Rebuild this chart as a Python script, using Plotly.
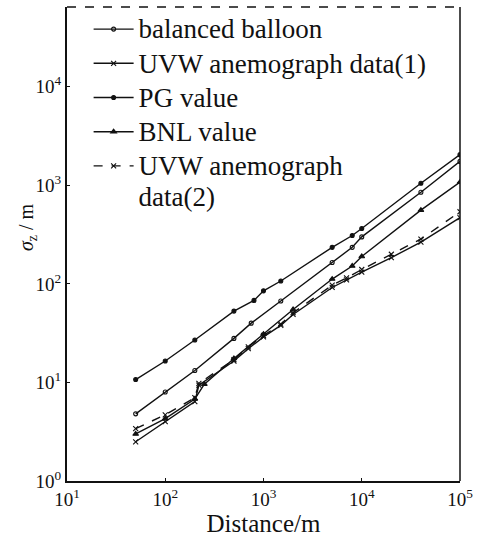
import plotly.graph_objects as go

# Vertical dispersion parameter sigma_z (m) against downwind distance (m)
pg_x = [50, 100, 200, 500, 800, 1000, 1500, 5000, 8000, 10000, 40000, 100000]
pg_y = [10.7, 16.5, 27, 53, 68, 85, 107, 235, 310, 365, 1050, 2050]

balloon_x = [50, 100, 200, 500, 750, 1500, 5000, 8000, 10000, 40000, 100000]
balloon_y = [4.8, 8.0, 13.2, 28, 40, 67, 165, 235, 300, 850, 1750]

bnl_x = [50, 100, 200, 250, 500, 1000, 2000, 5000, 8000, 10000, 40000, 100000]
bnl_y = [3.0, 4.3, 6.8, 9.6, 17.5, 31, 55, 112, 152, 190, 560, 1080]

uvw2_x = [50, 100, 200, 220, 500, 700, 1000, 1500, 2000, 5000, 7000, 10000, 20000, 40000, 100000]
uvw2_y = [3.4, 4.7, 7.0, 9.8, 17, 23, 30, 39, 51, 97, 115, 140, 200, 285, 540]

uvw1_x = [50, 100, 200, 220, 500, 700, 1000, 1500, 2000, 5000, 7000, 10000, 20000, 40000, 100000]
uvw1_y = [2.5, 4.0, 6.4, 9.4, 16.5, 22, 29, 38, 49, 92, 110, 132, 185, 265, 470]

x_tickvals = [10, 100, 1000, 10000, 100000]
x_ticktext = ["10<sup>1</sup>", "10<sup>2</sup>", "10<sup>3</sup>", "10<sup>4</sup>", "10<sup>5</sup>"]
y_tickvals = [1, 10, 100, 1000, 10000]
y_ticktext = ["10<sup>0</sup>", "10<sup>1</sup>", "10<sup>2</sup>", "10<sup>3</sup>", "10<sup>4</sup>"]

SERIF = "Liberation Serif, Times New Roman, serif"
INK = "#111111"


def big(label):
    return '<span style="font-size:27px">' + label + "</span>"


series = [
    (big("balanced balloon"), balloon_x, balloon_y, "circle-open", 4, "solid"),
    (big("UVW anemograph data(1)"), uvw1_x, uvw1_y, "x-thin", 5, "solid"),
    (big("PG value"), pg_x, pg_y, "circle", 4, "solid"),
    (big("BNL value"), bnl_x, bnl_y, "triangle-up", 5, "solid"),
    (big("UVW anemograph") + "<br>" + big("data(2)"), uvw2_x, uvw2_y, "x-thin", 5, "dash"),
]

fig = go.Figure()
for name, xs, ys, sym, size, dash in series:
    fig.add_trace(go.Scatter(
        x=xs, y=ys, name=name, mode="lines+markers",
        line=dict(color=INK, width=1.4, dash=dash),
        marker=dict(symbol=sym, size=size, color=INK,
                    line=dict(color=INK, width=1.1)),
    ))

fig.update_layout(
    width=488, height=537,
    margin=dict(l=67, r=28, t=7, b=54),
    paper_bgcolor="white", plot_bgcolor="white",
    font=dict(family=SERIF, color=INK),
    showlegend=True,
    legend=dict(
        x=0.055, y=1.0, xanchor="left", yanchor="top",
        font=dict(family=SERIF, size=24, color=INK),
        bgcolor="rgba(0,0,0,0)", borderwidth=0,
        valign="top", itemwidth=40, tracegroupgap=0,
    ),
    xaxis=dict(
        type="log", range=[1, 5],
        tickvals=x_tickvals, ticktext=x_ticktext,
        tickfont=dict(family=SERIF, size=19, color=INK),
        ticks="inside", ticklen=3, tickcolor=INK,
        showline=True, linecolor=INK, linewidth=1.5,
        showgrid=False, zeroline=False,
        title=dict(text="Distance/m", font=dict(family=SERIF, size=25, color=INK), standoff=3),
    ),
    yaxis=dict(
        type="log", range=[0, 4.81],
        tickvals=y_tickvals, ticktext=y_ticktext,
        tickfont=dict(family=SERIF, size=19, color=INK),
        ticks="inside", ticklen=3, tickcolor=INK,
        showline=True, linecolor=INK, linewidth=2,
        showgrid=False, zeroline=False,
    ),
)

# right border solid, top border broken
fig.add_shape(type="line", xref="paper", yref="paper", x0=1, x1=1, y0=0, y1=1,
              line=dict(color=INK, width=1.5))
fig.add_shape(type="line", xref="paper", yref="paper", x0=0, x1=1, y0=1, y1=1,
              line=dict(color=INK, width=1.3, dash="dash"))

# vertical axis label
fig.add_annotation(
    text="<i>σ</i><sub>z</sub> / m", textangle=-90,
    xref="paper", yref="paper", x=-0.1, y=0.535,
    xanchor="center", yanchor="middle", showarrow=False,
    font=dict(family=SERIF, size=20, color=INK),
)

fig.write_html("out.html")
